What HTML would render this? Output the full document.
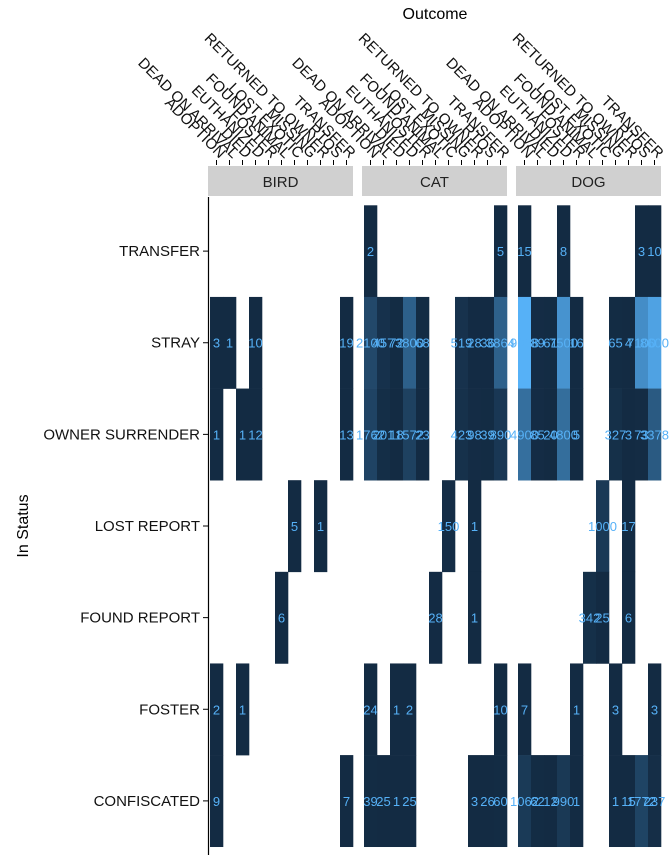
<!DOCTYPE html>
<html><head><meta charset="utf-8"><style>
html,body{margin:0;padding:0;background:#fff;}
svg{display:block;font-family:"Liberation Sans",Arial,sans-serif;}
</style></head><body>
<svg id="chart" width="672" height="864" viewBox="0 0 672 864"></svg>
<script>
const facets = ["BIRD","CAT","DOG"];
const outcomes = ["ADOPTION","DEAD ON ARRIVAL","DIED","EUTHANIZED","FOSTER","FOUND ANIMAL","LOST EXOTIC","MISSING","RETURNED TO OWNER","RTOS","TRANSFER"];
const statuses = ["TRANSFER","STRAY","OWNER SURRENDER","LOST REPORT","FOUND REPORT","FOSTER","CONFISCATED"];
// values per facet: [statusIndex, outcomeIndex, value]
const birdCells = [[1,0,3],[1,1,1],[1,3,10],[1,10,19],[2,0,1],[2,2,1],[2,3,12],[2,10,13],[3,6,5],[3,8,1],[4,5,6],[5,0,2],[5,2,1],[6,0,9],[6,10,7]];
const catCells = [[0,0,2],[0,10,5],[1,0,2100],[1,1,457],[1,2,72],[1,3,3800],[1,4,68],[1,7,519],[1,8,28],[1,9,36],[1,10,3864],[2,0,1762],[2,1,201],[2,2,18],[2,3,1572],[2,4,23],[2,7,423],[2,8,98],[2,9,39],[2,10,890],[3,6,150],[3,8,1],[4,5,28],[4,8,1],[5,0,24],[5,2,1],[5,3,2],[5,10,10],[6,0,39],[6,1,25],[6,2,1],[6,3,25],[6,8,3],[6,9,26],[6,10,60]];
const dogCells = [[0,0,15],[0,3,8],[0,9,3],[0,10,10],[1,0,9668],[1,1,89],[1,2,61],[1,3,7500],[1,4,16],[1,7,65],[1,8,4],[1,9,7100],[1,10,8600],[2,0,4900],[2,1,85],[2,2,20],[2,3,4800],[2,4,5],[2,7,327],[2,8,3],[2,9,73],[2,10,3378],[3,6,1000],[3,8,17],[4,5,342],[4,6,25],[4,8,6],[5,0,7],[5,4,1],[5,7,3],[5,10,3],[6,0,1062],[6,1,62],[6,2,12],[6,3,990],[6,4,1],[6,7,1],[6,8,15],[6,9,1772],[6,10,237]];
const facetCells = [birdCells, catCells, dogCells];

const NS = "http://www.w3.org/2000/svg";
const svg = document.getElementById("chart");
function mk(tag, attrs, parent){const e=document.createElementNS(NS,tag);for(const k in attrs)e.setAttribute(k,attrs[k]);(parent||svg).appendChild(e);return e;}

const panelX = [208, 362, 516];
const panelW = 145;
const tileX0 = 2, colW = 13;
const rowTop = 205.3, rowH = 91.63;
function xPos(f, i){ return panelX[f] + tileX0 + i*colW; }
function yPos(s){ return rowTop + s*rowH; }
let vmax = 0;
facetCells.forEach(c=>c.forEach(d=>{ if(d[2]>vmax) vmax=d[2]; }));
function color(v){
  const t = Math.max(0, Math.min(1, v / vmax));
  const a=[0x13,0x2B,0x43], b=[0x56,0xB1,0xF7];
  return "rgb("+a.map((x,i)=>Math.round(x+(b[i]-x)*t)).join(",")+")";
}

let t = mk("text",{x:435,y:19,"text-anchor":"middle","font-size":"16",fill:"#000"});
t.textContent="Outcome";


t = mk("text",{x:0,y:0,"text-anchor":"middle","font-size":"16",fill:"#000",transform:"translate(28,526) rotate(-90)"});
t.textContent="In Status";



let ax = mk("line",{x1:208.5,y1:197,x2:208.5,y2:855,stroke:"#000","stroke-width":1.2});


statuses.forEach((s,i)=>{
  const cy = yPos(i)+rowH/2;
  const tk = mk("line",{x1:203,y1:cy,x2:208,y2:cy,stroke:"#000","stroke-width":1});
  
  
  const lb = mk("text",{x:200,y:cy+5,"text-anchor":"end","font-size":"15",fill:"#111"});
  lb.textContent = s;
  
  
});

facets.forEach((f,fi)=>{
  const st = mk("rect",{x:panelX[fi],y:166,width:panelW,height:30,fill:"#d0d0d0"});
  
  
  const stt = mk("text",{x:panelX[fi]+panelW/2,y:187,"text-anchor":"middle","font-size":"15",fill:"#222"});
  stt.textContent = f;
  
  
  outcomes.forEach((o,oi)=>{
    const cx = xPos(fi,oi)+colW/2;
    const tk = mk("line",{x1:cx,y1:160,x2:cx,y2:165,stroke:"#000","stroke-width":1});
    
    
    const lb = mk("text",{x:0,y:0,"text-anchor":"end","font-size":"15",fill:"#111",transform:"translate("+(cx+3)+",159) rotate(45)"});
    lb.textContent = o;
    
    
  });
  facetCells[fi].forEach(d=>{
    const x = xPos(fi,d[1]), y = yPos(d[0]);
    const r = mk("rect",{x:x,y:y,width:colW+0.3,height:rowH+0.3,fill:color(d[2])});
    
    
  });
  facetCells[fi].forEach(d=>{
    const x = xPos(fi,d[1])+colW/2, y = yPos(d[0])+rowH/2+5;
    const tx = mk("text",{x:x,y:y,"text-anchor":"middle","font-size":"13",fill:"#56B1F7"});
    tx.textContent = d[2];
    
    
  });
});
</script>
</body></html>
